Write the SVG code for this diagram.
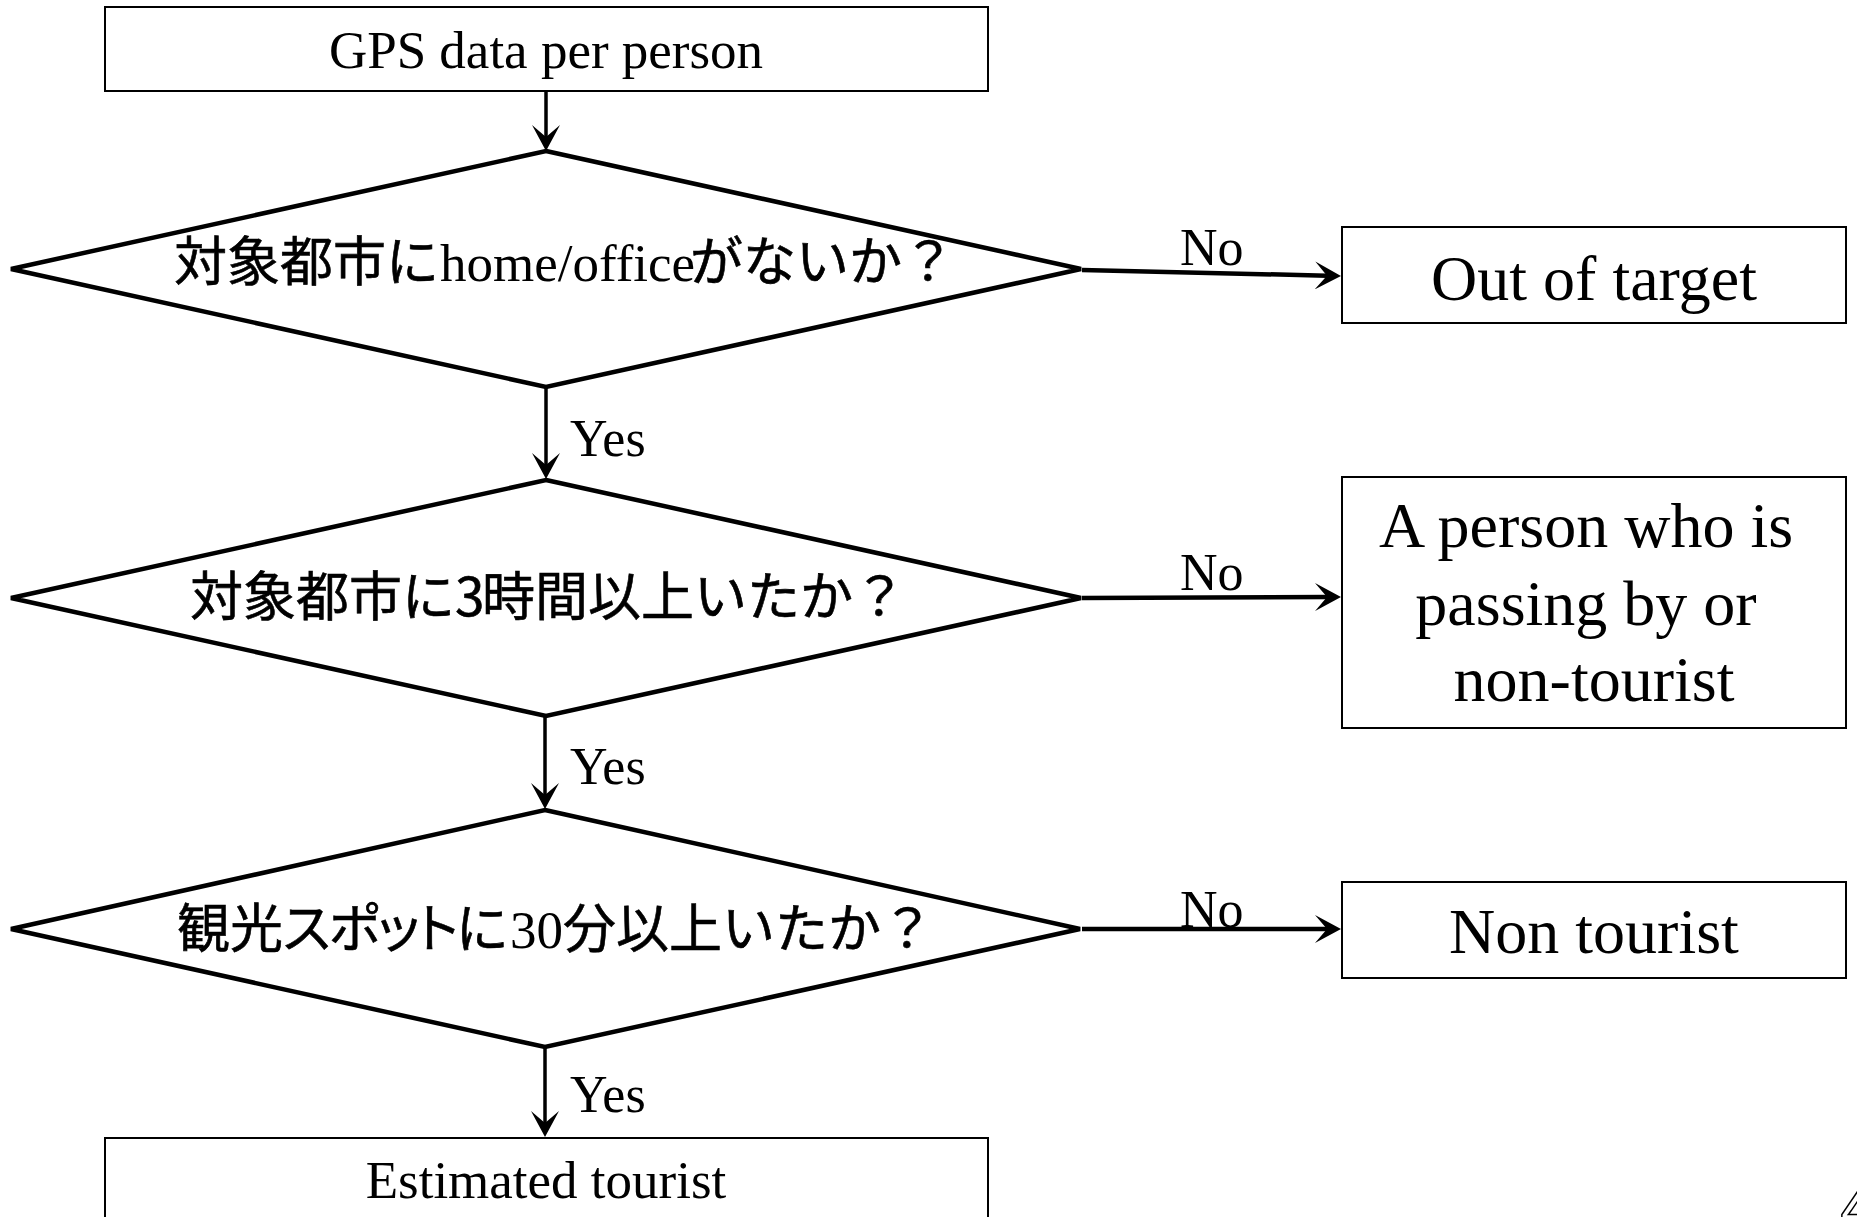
<svg xmlns="http://www.w3.org/2000/svg" width="1857" height="1217" viewBox="0 0 1857 1217">
  <style>
    .box { fill: #fff; stroke: #000; stroke-width: 2; }
    .dia { fill: #fff; stroke: #000; stroke-width: 4.5; }
    .edge { fill: none; stroke: #000; stroke-width: 3.5; marker-end: url(#arrow); }
    .edge-h { fill: none; stroke: #000; stroke-width: 4.5; marker-end: url(#arrow); }
    .lat { font-family: "Liberation Serif", "Times New Roman", serif; fill: #000; }
    .jp { font-family: "Noto Sans CJK JP", "Noto Sans", sans-serif; fill: #000; stroke: #000; stroke-width: 0.6; }
    .prop { font-feature-settings: "palt" 1; letter-spacing: -2px; }
    .lbl { font-family: "Liberation Serif", "Times New Roman", serif; font-size: 52px; fill: #000; }
  </style>
  <defs>
    <marker id="arrow" viewBox="0 0 26 28" refX="12" refY="14" markerWidth="26" markerHeight="28" markerUnits="userSpaceOnUse" orient="auto">
      <path d="M26,14 L0,0 L12,14 L0,28 Z" fill="#000"/>
    </marker>
  </defs>

  <rect width="1857" height="1217" fill="#fff"/>

  <!-- connectors -->
  <g id="connectors">
    <line class="edge" x1="546" y1="91" x2="546" y2="137"/>
    <line class="edge" x1="546" y1="388" x2="546" y2="465"/>
    <line class="edge" x1="545" y1="717" x2="545" y2="795"/>
    <line class="edge" x1="545" y1="1047" x2="545" y2="1123"/>
    <line class="edge-h" x1="1082" y1="270" x2="1327" y2="275.7"/>
    <line class="edge-h" x1="1082" y1="598" x2="1327" y2="597"/>
    <line class="edge-h" x1="1082" y1="929" x2="1327" y2="929"/>
    <text class="lbl" x="1180" y="265">No</text>
    <text class="lbl" x="1180" y="590">No</text>
    <text class="lbl" x="1180" y="927">No</text>
    <text class="lbl" x="570" y="456">Yes</text>
    <text class="lbl" x="570" y="784">Yes</text>
    <text class="lbl" x="570" y="1112">Yes</text>
  </g>

  <!-- start -->
  <g id="start">
    <rect class="box" x="105" y="7" width="883" height="84"/>
    <text class="lat" x="546" y="68" font-size="53" text-anchor="middle">GPS data per person</text>
  </g>

  <!-- decision 1 -->
  <g id="decision-home">
    <polygon class="dia" points="546,151 1081,269 546,387 11,269"/>
    <text y="281" font-size="53">
      <tspan class="jp" x="174">対象都市に</tspan><tspan class="lat" x="440">home/office</tspan><tspan class="jp" x="690">がないか？</tspan>
    </text>
  </g>

  <!-- decision 2 -->
  <g id="decision-stay">
    <polygon class="dia" points="546,480 1081,598 546,716 11,598"/>
    <text y="616" font-size="53">
      <tspan class="jp" x="190">対象都市に3</tspan><tspan class="jp" x="482">時間以上いたか？</tspan>
    </text>
  </g>

  <!-- decision 3 -->
  <g id="decision-spot">
    <polygon class="dia" points="545,810 1080,929 545,1047 11,929"/>
    <text y="948" font-size="53">
      <tspan class="jp" x="177">観光</tspan><tspan class="jp prop">スポットに</tspan><tspan class="lat" x="510">30</tspan><tspan class="jp" x="563">分以上いたか？</tspan>
    </text>
  </g>

  <!-- outcomes -->
  <g id="out-of-target">
    <rect class="box" x="1342" y="227" width="504" height="96"/>
    <text class="lat" x="1594" y="300" font-size="64" text-anchor="middle">Out of target</text>
  </g>

  <g id="passing-by">
    <rect class="box" x="1342" y="477" width="504" height="251"/>
    <text class="lat" font-size="64" text-anchor="middle">
      <tspan x="1594" y="547">A person who is</tspan>
      <tspan x="1594" y="625">passing by or</tspan>
      <tspan x="1594" y="701">non-tourist</tspan>
    </text>
  </g>

  <g id="non-tourist">
    <rect class="box" x="1342" y="882" width="504" height="96"/>
    <text class="lat" x="1594" y="953" font-size="64" text-anchor="middle">Non tourist</text>
  </g>

  <g id="estimated-tourist">
    <rect class="box" x="105" y="1138" width="883" height="120"/>
    <text class="lat" x="546" y="1198" font-size="53" text-anchor="middle">Estimated tourist</text>
  </g>

  <!-- page number, cut at the corner -->
  <text x="1840" y="1232" font-family="Liberation Sans, Arial, sans-serif" font-size="80" fill="none" stroke="#000" stroke-width="1.5">4</text>
</svg>
